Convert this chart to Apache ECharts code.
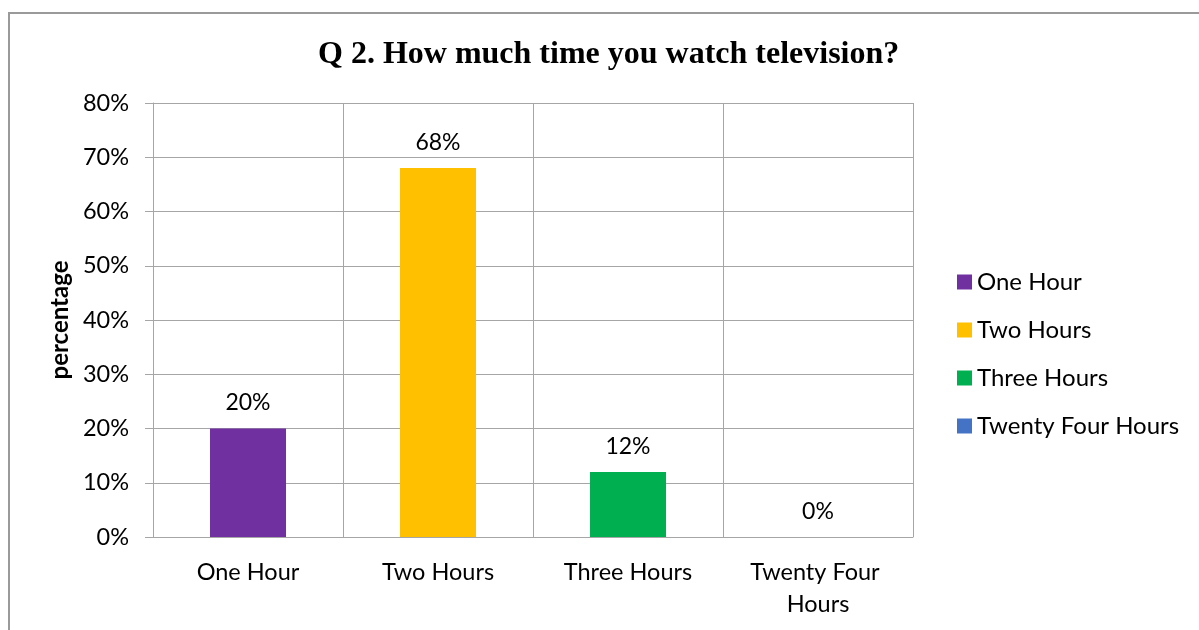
<!DOCTYPE html>
<html>
<head>
<meta charset="utf-8">
<script src="https://cdn.jsdelivr.net/npm/echarts@6/dist/echarts.min.js"></script>
<style>
  html, body { margin: 0; padding: 0; background: #ffffff; }
  #chart { width: 1199px; height: 630px; }
</style>
</head>
<body>
<div id="chart"></div>
<script>
// Survey answers: share of respondents per viewing time
const categories = ['One Hour', 'Two Hours', 'Three Hours', 'Twenty Four Hours'];
const percentages = [20, 68, 12, 0];
const barColors = ['#7030A0', '#FFC000', '#00B050', '#4472C4'];
const yTicks = [0, 10, 20, 30, 40, 50, 60, 70, 80];

const FONT = 'Lato';

// One series per category so each answer gets its own legend entry;
// they share a stack so every bar sits centred in its own slot.
const series = categories.map((name, i) => ({
  name: name,
  type: 'bar',
  stack: 'answers',
  barWidth: '40%',
  itemStyle: { color: barColors[i] },
  label: {
    show: true,
    position: 'top',
    distance: 14,
    formatter: p => p.value + '%',
    color: '#000',
    fontFamily: FONT,
    fontSize: 23
  },
  data: categories.map((c, j) => (j === i ? percentages[i] : '-'))
}));

const chart = echarts.init(document.getElementById('chart'));
chart.setOption({
  animation: false,
  backgroundColor: '#ffffff',
  title: {
    text: 'Q 2. How much time you watch television?',
    left: 313,
    top: 34,
    textStyle: {
      fontFamily: 'Liberation Serif',
      fontWeight: 'bold',
      fontSize: 32,
      color: '#000'
    }
  },
  legend: {
    orient: 'vertical',
    left: 952,
    top: 265,
    itemWidth: 15,
    itemHeight: 15,
    itemGap: 24,
    icon: 'rect',
    textStyle: { fontFamily: FONT, fontSize: 24, color: '#000' },
    data: categories
  },
  grid: { left: 153, right: 286, top: 103, bottom: 93 },
  xAxis: {
    type: 'category',
    data: categories,
    axisLine: { lineStyle: { color: '#a6a6a6', width: 1 } },
    axisTick: { show: false },
    splitLine: { show: true, lineStyle: { color: '#a6a6a6', width: 1 } },
    axisLabel: {
      color: '#000',
      fontFamily: FONT,
      fontSize: 23.5,
      margin: 19,
      lineHeight: 32,
      width: 150,
      overflow: 'break',
      interval: 0
    }
  },
  yAxis: {
    type: 'value',
    min: yTicks[0],
    max: yTicks[yTicks.length - 1],
    interval: 10,
    name: 'percentage',
    nameLocation: 'middle',
    nameGap: 79,
    nameRotate: 90,
    nameTextStyle: { fontFamily: FONT, fontWeight: 'bold', fontSize: 24, color: '#000' },
    axisLine: { show: true, lineStyle: { color: '#a6a6a6', width: 1 } },
    axisTick: { show: true, length: 8, lineStyle: { color: '#a6a6a6' } },
    splitLine: { show: true, lineStyle: { color: '#a6a6a6', width: 1 } },
    axisLabel: {
      color: '#000',
      fontFamily: FONT,
      fontSize: 23.5,
      margin: 24,
      formatter: v => v + '%'
    }
  },
  graphic: [{
    type: 'rect',
    silent: true,
    shape: { x: 9, y: 13, width: 1200, height: 630 },
    style: { fill: 'none', stroke: '#9a9a9a', lineWidth: 2 }
  }],
  series: series
});
</script>
</body>
</html>
